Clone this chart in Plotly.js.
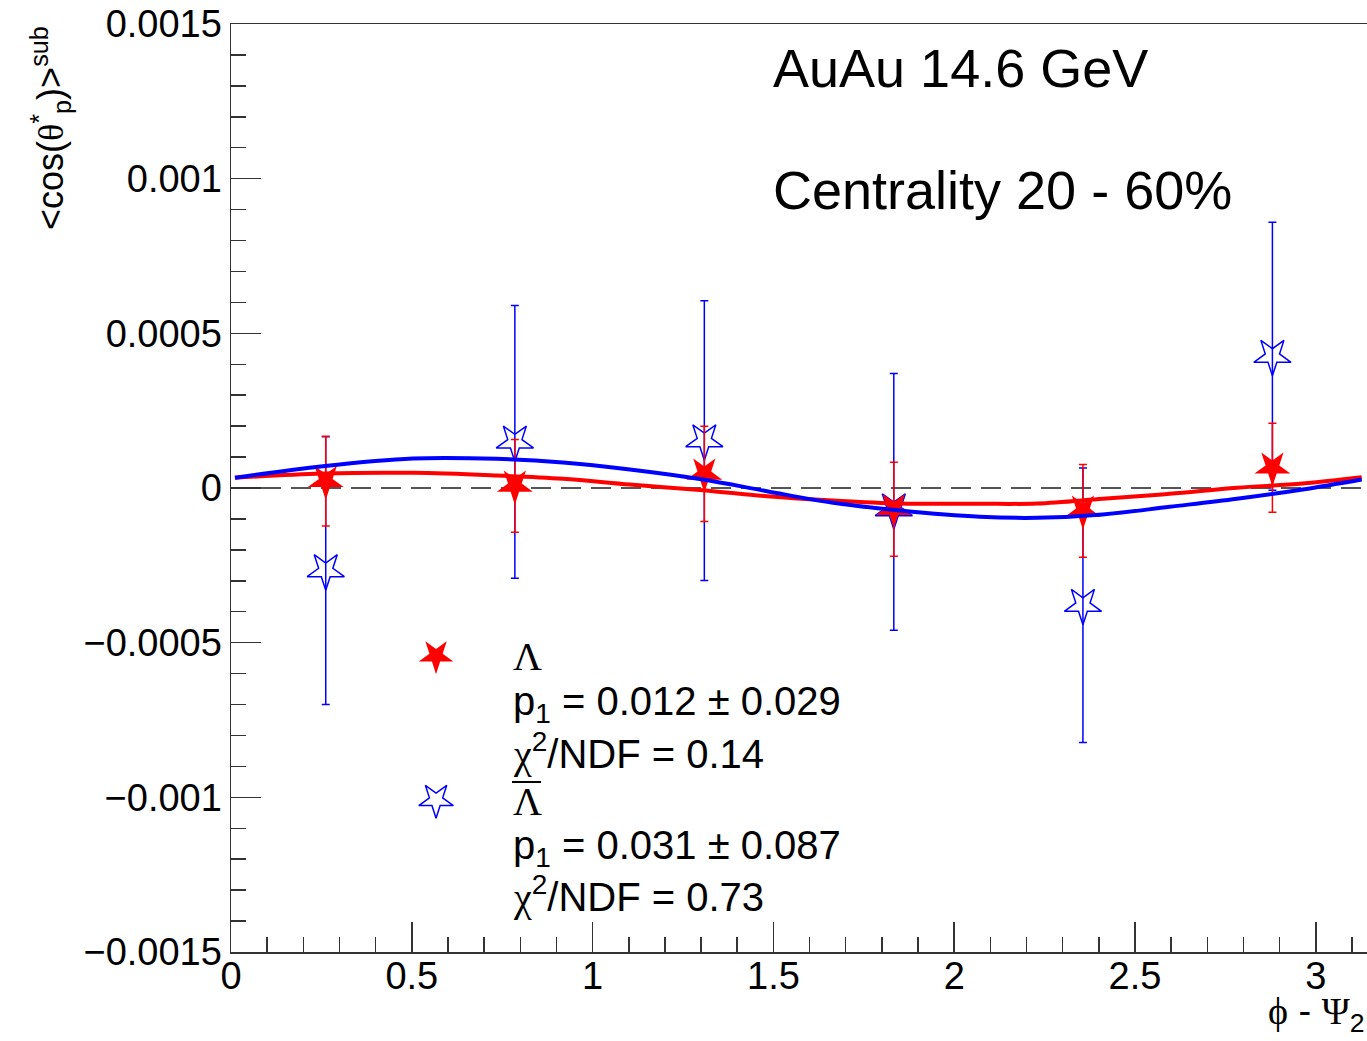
<!DOCTYPE html>
<html>
<head>
<meta charset="utf-8">
<script src="https://cdn.plot.ly/plotly-3.0.1.min.js"></script>
<style>html,body{margin:0;padding:0;background:#fff;}#plot{width:1367px;height:1041px;}</style>
</head>
<body>
<div id="plot"></div>
<script>
// ---- data ----
const binX = [0.262, 0.785, 1.309, 1.833, 2.356, 2.880];
const lambdaY   = [0.000022, 0.0000071, 0.0000459, -0.0000685, -0.0000737, 0.0000656];
const lambdaErr = [0.000145, 0.000150, 0.000154, 0.000152, 0.000150, 0.000144];
const antiY   = [-0.000267, 0.000149, 0.000153, -0.000070, -0.000379, 0.000426];
const antiErrUp   = [0.000433, 0.000441, 0.000452, 0.000440, 0.000444, 0.000433];
const antiErrDown = [0.000433, 0.000441, 0.000452, 0.000390, 0.000444, 0.000433];

const fitX = [0.011, 0.254, 0.503, 0.735, 0.918, 1.103, 1.305, 1.482, 1.665, 1.850, 2.071, 2.229, 2.411, 2.596, 2.782, 2.964, 3.127];
const lambdaFit = [0.000033, 0.0000468, 0.0000491, 0.0000404, 0.0000297, 0.0000113, -0.0000071, -0.0000265, -0.0000404, -0.0000501, -0.0000510, -0.0000501, -0.0000349, -0.0000187, 0.0000006, 0.0000145, 0.0000349];
const antiFit = [0.000033, 0.0000704, 0.0000953, 0.0000943, 0.0000824, 0.0000598, 0.0000275, -0.0000103, -0.0000478, -0.0000727, -0.0000930, -0.0000963, -0.0000856, -0.0000607, -0.0000349, -0.0000048, 0.0000275];

const yTickVals = [-0.0015, -0.001, -0.0005, 0, 0.0005, 0.001, 0.0015];
const yTickText = ['\u22120.0015', '\u22120.001', '\u22120.0005', '0', '0.0005', '0.001', '0.0015'];
const xTickVals = [0, 0.5, 1, 1.5, 2, 2.5, 3];
const xTickText = ['0', '0.5', '1', '1.5', '2', '2.5', '3'];

const legendNames = ['Λ', 'Λ'];
const legendP1 = ['p<sub>1</sub> = 0.012 ± 0.029', 'p<sub>1</sub> = 0.031 ± 0.087'];
const legendChi = ['χ<sup>2</sup>/NDF = 0.14', 'χ<sup>2</sup>/NDF = 0.73'];

// ---- styling ----
const SANS = 'Liberation Sans, Arial, Helvetica, sans-serif';
const SERIF = 'Liberation Serif, Times New Roman, serif';
const RED = '#ff0000', BLUE = '#0000ff';

const traces = [
  {
    x: binX, y: antiY, type: 'scatter', mode: 'markers', name: 'anti',
    error_y: {type: 'data', symmetric: false, array: antiErrUp, arrayminus: antiErrDown, visible: true, color: BLUE, thickness: 1.5, width: 4},
    marker: {symbol: 'star-open', size: 28, angle: 180, color: BLUE, line: {color: BLUE, width: 1.5}},
    showlegend: false, hoverinfo: 'skip'
  },
  {
    x: binX, y: lambdaY, type: 'scatter', mode: 'markers', name: 'lambda',
    error_y: {type: 'data', array: lambdaErr, visible: true, color: RED, thickness: 1.5, width: 4},
    marker: {symbol: 'star', size: 27, angle: 180, color: RED, line: {width: 0}},
    showlegend: false, hoverinfo: 'skip'
  },
  {
    x: fitX, y: lambdaFit, type: 'scatter', mode: 'lines',
    line: {color: RED, width: 4, shape: 'spline'}, showlegend: false, hoverinfo: 'skip'
  },
  {
    x: fitX, y: antiFit, type: 'scatter', mode: 'lines',
    line: {color: BLUE, width: 4, shape: 'spline'}, showlegend: false, hoverinfo: 'skip'
  },
  // legend symbols on an overlay axis (0..1)
  {
    x: [0.1805], y: [0.319], xaxis: 'x2', yaxis: 'y2', type: 'scatter', mode: 'markers',
    marker: {symbol: 'star', size: 26, angle: 180, color: RED, line: {width: 0}},
    showlegend: false, hoverinfo: 'skip'
  },
  {
    x: [0.1805], y: [0.1638], xaxis: 'x2', yaxis: 'y2', type: 'scatter', mode: 'markers',
    marker: {symbol: 'star-open', size: 26, angle: 180, color: BLUE, line: {color: BLUE, width: 1.5}},
    showlegend: false, hoverinfo: 'skip'
  }
];

const txtX = (511 - 231) / 1136;
function ann(text, y, extra) {
  return Object.assign({
    xref: 'paper', yref: 'paper', x: txtX, y: y, xanchor: 'left', yanchor: 'middle',
    text: text, showarrow: false, font: {family: SANS, size: 40, color: '#000'}
  }, extra || {});
}
const serif = s => '<span style="font-family:' + SERIF + '">' + s + '</span>';

const annotations = [
  ann(serif(legendNames[0]), 0.318),
  ann(legendP1[0], 0.2675),
  ann(legendChi[0].replace('χ', serif('χ')), 0.2165),
  ann(serif(legendNames[1]), 0.162),
  ann(legendP1[1], 0.112),
  ann(legendChi[1].replace('χ', serif('χ')), 0.0615),
  {xref: 'paper', yref: 'paper', x: (771 - 231) / 1136, y: 0.9526, xanchor: 'left', yanchor: 'middle',
   text: 'AuAu 14.6 GeV', showarrow: false, font: {family: SANS, size: 54, color: '#000'}},
  {xref: 'paper', yref: 'paper', x: (771 - 231) / 1136, y: 0.8211, xanchor: 'left', yanchor: 'middle',
   text: 'Centrality 20 - 60%', showarrow: false, font: {family: SANS, size: 54, color: '#000'}},
  {xref: 'paper', yref: 'paper', x: (50 - 231) / 1136, y: 1.0, xanchor: 'center', yanchor: 'top',
   textangle: -90, showarrow: false,
   text: '&lt;cos(' + serif('θ') + '<sup>*</sup><sub>p</sub>)&gt;<sup>sub</sup>',
   font: {family: SANS, size: 36, color: '#000'}},
  {xref: 'paper', yref: 'paper', x: 1.0, y: -0.067, xanchor: 'right', yanchor: 'middle', showarrow: false,
   text: serif('ϕ') + ' - ' + serif('Ψ') + '<sub>2</sub>',
   font: {family: SANS, size: 38, color: '#000'}}
];

const layout = {
  width: 1367, height: 1041,
  margin: {l: 231, r: 0, t: 24, b: 89, pad: 0},
  paper_bgcolor: '#fff', plot_bgcolor: '#fff',
  showlegend: false,
  font: {family: SANS, size: 38, color: '#000'},
  xaxis: {
    range: [0, Math.PI], showgrid: false, zeroline: false,
    showline: true, mirror: true, linecolor: '#333', linewidth: 1.5,
    ticks: 'inside', ticklen: 30, tickwidth: 1.5, tickcolor: '#333',
    tickmode: 'array', tickvals: xTickVals, ticktext: xTickText,
    tickfont: {family: SANS, size: 38, color: '#000'}, ticklabelstandoff: -10,
    minor: {dtick: 0.1, tick0: 0, ticks: 'inside', ticklen: 15, tickwidth: 1.5, tickcolor: '#333', showgrid: false}
  },
  yaxis: {
    range: [-0.0015, 0.0015], showgrid: false, zeroline: false,
    showline: true, mirror: true, linecolor: '#333', linewidth: 1.5,
    ticks: 'inside', ticklen: 30, tickwidth: 1.5, tickcolor: '#333',
    tickmode: 'array', tickvals: yTickVals, ticktext: yTickText,
    tickfont: {family: SANS, size: 38, color: '#000'}, ticklabelstandoff: 0,
    minor: {dtick: 0.0001, tick0: 0, ticks: 'inside', ticklen: 15, tickwidth: 1.5, tickcolor: '#333', showgrid: false}
  },
  xaxis2: {overlaying: 'x', range: [0, 1], visible: false, fixedrange: true},
  yaxis2: {overlaying: 'y', range: [0, 1], visible: false, fixedrange: true},
  shapes: [
    {type: 'line', xref: 'paper', yref: 'y', x0: 0, x1: 0.995, y0: 0, y1: 0,
     line: {color: '#555', width: 2, dash: '20px,10px'}, layer: 'below'},
    // overline of the anti-Lambda legend label
    {type: 'line', xref: 'paper', yref: 'paper', x0: (512 - 231) / 1136, x1: (541 - 231) / 1136,
     y0: (952 - 782) / 928, y1: (952 - 782) / 928, line: {color: '#000', width: 2}}
  ],
  annotations: annotations
};

Plotly.newPlot('plot', traces, layout, {staticPlot: true, displayModeBar: false});
</script>
</body>
</html>
